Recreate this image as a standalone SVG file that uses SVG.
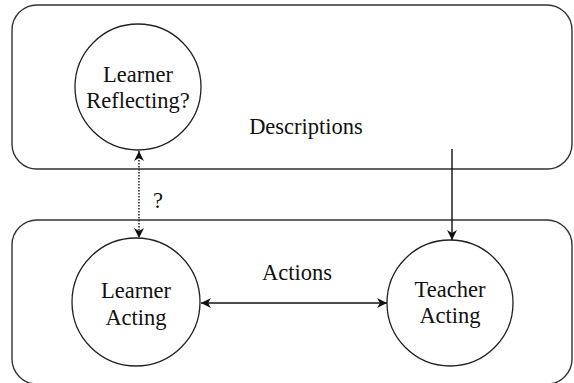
<svg xmlns="http://www.w3.org/2000/svg" width="574" height="383" viewBox="0 0 574 383">
  <style>
    .frame { fill: none; stroke: #333; stroke-width: 1.4; }
    .node { fill: #fff; stroke: #222; stroke-width: 1.3; }
    .lbl { font-family: 'Liberation Serif', 'Times New Roman', serif; font-size: 22.5px; fill: #111; text-anchor: middle; }
    .edge { fill: none; stroke: #111; stroke-width: 1.4; }
    .dotted { stroke-dasharray: 1.5 1.5; }
  </style>
  <defs>
    <marker id="head" viewBox="0 0 10 10" refX="10" refY="5" markerWidth="10" markerHeight="10" markerUnits="userSpaceOnUse" orient="auto-start-reverse">
      <path d="M0,0 L10,5 L0,10 L3,5 Z" fill="#111"/>
    </marker>
  </defs>

  <!-- layer frames -->
  <g id="description-layer">
    <rect class="frame" x="12" y="5" width="560" height="164" rx="25" ry="25"/>
    <text class="lbl" x="306" y="134">Descriptions</text>
  </g>
  <g id="action-layer">
    <rect class="frame" x="12" y="220" width="560" height="164" rx="25" ry="25"/>
    <text class="lbl" x="297" y="280">Actions</text>
  </g>

  <!-- nodes -->
  <g id="learner-reflecting">
    <circle class="node" cx="138" cy="87" r="63"/>
    <text class="lbl" x="138" y="82">Learner</text>
    <text class="lbl" x="138" y="108">Reflecting?</text>
  </g>
  <g id="learner-acting">
    <circle class="node" cx="136" cy="302" r="64"/>
    <text class="lbl" x="136" y="298">Learner</text>
    <text class="lbl" x="136" y="325">Acting</text>
  </g>
  <g id="teacher-acting">
    <circle class="node" cx="450" cy="303" r="63"/>
    <text class="lbl" x="450" y="297">Teacher</text>
    <text class="lbl" x="450" y="323">Acting</text>
  </g>

  <!-- connectors -->
  <g id="connectors">
    <line class="edge dotted" x1="139" y1="151" x2="139" y2="238" marker-start="url(#head)" marker-end="url(#head)"/>
    <text class="lbl" x="158" y="208">?</text>
    <line class="edge" x1="452" y1="149" x2="452" y2="240" marker-end="url(#head)"/>
    <line class="edge" x1="201" y1="303" x2="387" y2="303" marker-start="url(#head)" marker-end="url(#head)"/>
  </g>
</svg>
